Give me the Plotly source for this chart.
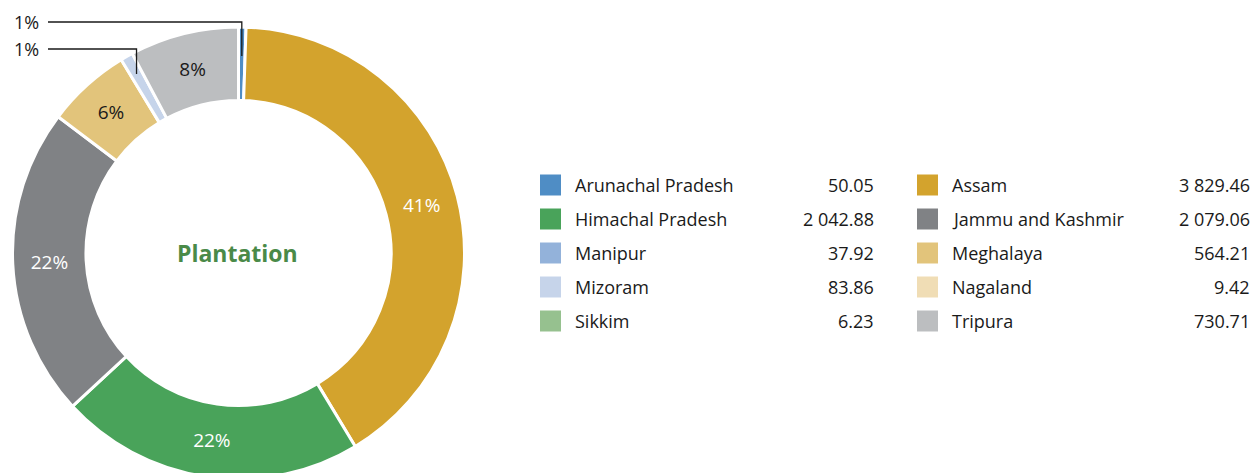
import math
import plotly.graph_objects as go

# Plantation area by state
states = ["Arunachal Pradesh", "Assam", "Himachal Pradesh", "Jammu and Kashmir", "Manipur",
          "Meghalaya", "Mizoram", "Nagaland", "Sikkim", "Tripura"]
areas = [50.05, 3829.46, 2042.88, 2079.06, 37.92, 564.21, 83.86, 9.42, 6.23, 730.71]
colors = ["#4f8dc5", "#d3a32d", "#49a35a", "#808285", "#93b2da",
          "#e2c47b", "#c6d4ea", "#f0ddb5", "#96c18f", "#bcbec0"]
# states drawn in the ring
ring_states = ["Arunachal Pradesh", "Assam", "Himachal Pradesh", "Jammu and Kashmir",
               "Meghalaya", "Mizoram", "Tripura"]
# slices labelled with a leader line instead of inside text
callout_states = ["Arunachal Pradesh", "Mizoram"]
dark_text_states = ["Meghalaya", "Tripura"]

W, H = 1258, 506
FONT = "Open Sans"
CX, CY, R = 238.5, 253, 226  # ring centre and outer radius, px

idx = [states.index(s) for s in ring_states]
ring_vals = [areas[i] for i in idx]
ring_cols = [colors[i] for i in idx]
total = sum(ring_vals)
pct_text = [f"{round(v / total * 100)}%" for v in ring_vals]
textpos = ["none" if s in callout_states else "inside" for s in ring_states]
textcol = ["#1a1a1a" if s in dark_text_states else "#ffffff" for s in ring_states]

fig = go.Figure()
fig.add_trace(go.Pie(
    labels=ring_states, values=ring_vals, sort=False, direction="clockwise", rotation=0,
    hole=0.675, text=pct_text, textinfo="text", textposition=textpos,
    insidetextorientation="horizontal",
    textfont=dict(family=FONT, size=19, color=textcol),
    marker=dict(colors=ring_cols, line=dict(color="#ffffff", width=3)),
    domain=dict(x=[(CX - R) / W, (CX + R) / W], y=[0, 1]),
    showlegend=False, hoverinfo="label+value+percent",
))


def px(x):
    return x / W


def py(y):
    return 1 - y / H


shapes, annotations = [], []

# centre title
annotations.append(dict(x=px(CX - 1), y=py(CY), xref="paper", yref="paper",
                        xanchor="center", yanchor="middle", text="<b>Plantation</b>",
                        showarrow=False, font=dict(family=FONT, size=23, color="#4a8a48")))

# leader lines for the thin slices
label_rows = [22, 49]
callout_radius = [0.872, 0.912]
cum = 0
for s, v in zip(ring_states, ring_vals):
    mid = (cum + v / 2) / total * 2 * math.pi
    cum += v
    if s not in callout_states:
        continue
    k = callout_states.index(s)
    r = R * callout_radius[k]
    ex, ey = CX + r * math.sin(mid), CY - r * math.cos(mid)
    ly = label_rows[k]
    shapes.append(dict(type="path", xref="paper", yref="paper",
                       path=f"M {px(48)} {py(ly)} L {px(ex)} {py(ly)} L {px(ex)} {py(ey)}",
                       line=dict(color="#1a1a1a", width=1.3)))
    annotations.append(dict(x=px(41), y=py(ly), xref="paper", yref="paper",
                            xanchor="right", yanchor="middle",
                            text=pct_text[ring_states.index(s)], showarrow=False,
                            font=dict(family=FONT, size=18, color="#1a1a1a")))

# legend table: two columns of five rows
col_x = [540, 917]
val_right = [876, 1252]
row_y0, row_dy, sq = 185, 34, 21
for i, (s, v, c) in enumerate(zip(states, areas, colors)):
    col, row = i % 2, i // 2
    x0, y = col_x[col], row_y0 + row * row_dy
    shapes.append(dict(type="rect", xref="paper", yref="paper",
                       x0=px(x0), x1=px(x0 + sq), y0=py(y - sq / 2), y1=py(y + sq / 2),
                       fillcolor=c, line=dict(width=0)))
    annotations.append(dict(x=px(x0 + 33), y=py(y), xref="paper", yref="paper",
                            xanchor="left", yanchor="middle",
                            text=s, showarrow=False,
                            font=dict(family=FONT, size=18, color="#1a1a1a")))
    annotations.append(dict(x=px(val_right[col]), y=py(y), xref="paper", yref="paper",
                            xanchor="right", yanchor="middle",
                            text=f"{v:,.2f}".replace(",", " "), showarrow=False,
                            font=dict(family=FONT, size=18, color="#1a1a1a")))

fig.update_layout(
    width=W, height=H, margin=dict(l=0, r=0, t=0, b=0),
    paper_bgcolor="#ffffff", plot_bgcolor="#ffffff",
    shapes=shapes, annotations=annotations,
)

fig.write_html("out.html", config={"displayModeBar": False},
               post_script="document.body.style.overflow='hidden';"
                           "document.documentElement.style.overflow='hidden';")
